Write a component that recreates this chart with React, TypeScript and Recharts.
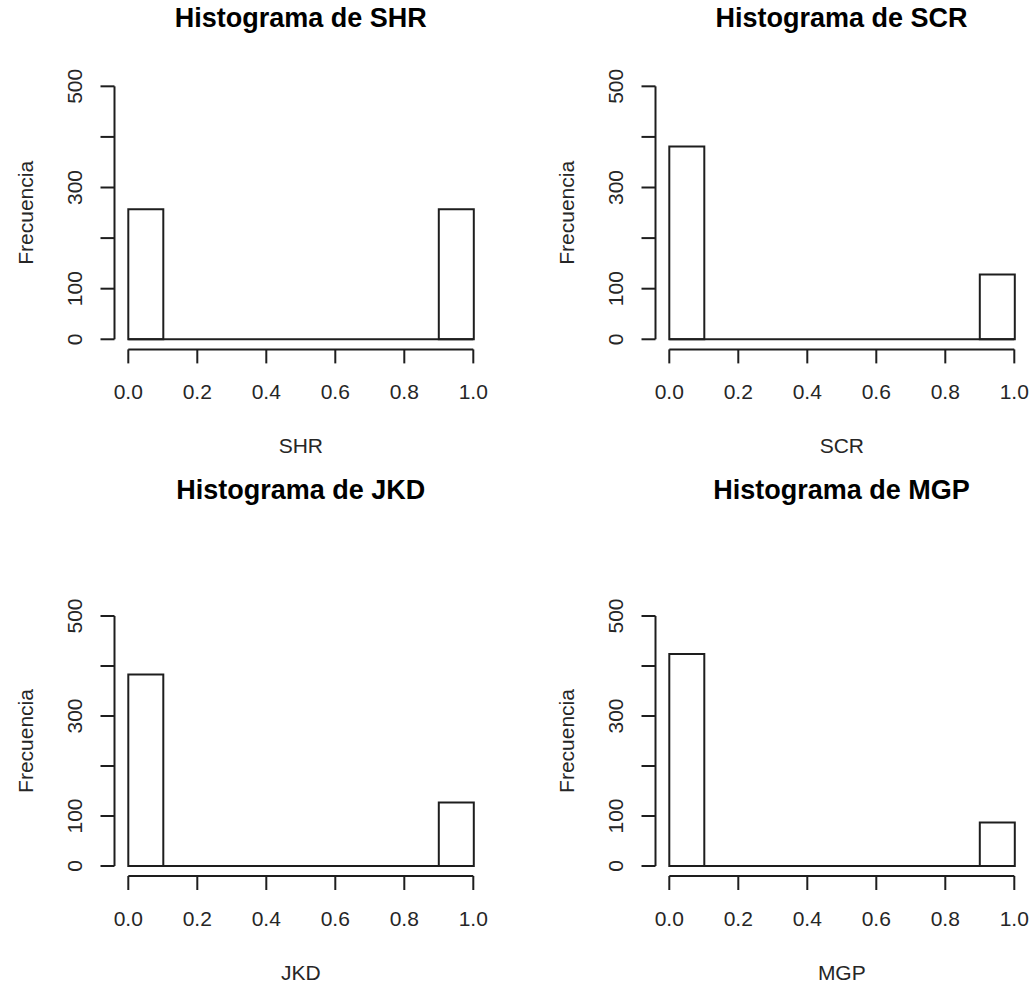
import React from "react";
import { Bar, BarChart, ReferenceLine, XAxis, YAxis } from "recharts";

// histogram bins (width 0.1 from 0 to 1)
const binNames = ["0.0-0.1", "0.1-0.2", "0.2-0.3", "0.3-0.4", "0.4-0.5", "0.5-0.6", "0.6-0.7", "0.7-0.8", "0.8-0.9", "0.9-1.0"];
const binMids = [0.05, 0.15, 0.25, 0.35, 0.45, 0.55, 0.65, 0.75, 0.85, 0.95];

const shrCounts = [257, 0, 0, 0, 0, 0, 0, 0, 0, 257];
const scrCounts = [381, 0, 0, 0, 0, 0, 0, 0, 0, 128];
const jkdCounts = [383, 0, 0, 0, 0, 0, 0, 0, 0, 127];
const mgpCounts = [424, 0, 0, 0, 0, 0, 0, 0, 0, 87];

const xTicks = [0, 0.2, 0.4, 0.6, 0.8, 1];
const yTicks = [0, 100, 200, 300, 400, 500];
const yLabeled = [0, 100, 300, 500];

const FONT = '"Liberation Sans", Arial, Helvetica, sans-serif';
const INK = "#1e1e1e";
const TEXT = "#262626";

const CHART_W = 516;
const PLOT_LEFT = 114.5;
const PLOT_RIGHT = 487.1;
const PAD = ((PLOT_RIGHT - PLOT_LEFT) * 0.04) / 1.08;
const X_AXIS_H = 60;

type RowGeom = { top: number; height: number; plotTop: number; plotBottom: number; titleY: number };

const topRow: RowGeom = { top: 0, height: 493, plotTop: 76.2, plotBottom: 349.4, titleY: 28 };
const bottomRow: RowGeom = { top: 470, height: 516, plotTop: 136, plotBottom: 406, titleY: 30 };

function XTick(props: any) {
  const { x, y, payload } = props;
  return (
    <text x={x} y={y + 34} textAnchor="middle" fontSize={21} fontFamily={FONT} fill={TEXT}>
      {Number(payload.value).toFixed(1)}
    </text>
  );
}

function YTick(props: any) {
  const { x, y, payload } = props;
  if (!yLabeled.includes(payload.value)) return null;
  return (
    <text
      transform={`translate(${x - 16.5},${y}) rotate(-90)`}
      textAnchor="middle"
      fontSize={21}
      fontFamily={FONT}
      fill={TEXT}
    >
      {payload.value}
    </text>
  );
}

function Histogram({ name, counts, left, row }: { name: string; counts: number[]; left: number; row: RowGeom }) {
  const data = binNames.map((bin, i) => ({ bin, mid: binMids[i], count: counts[i] }));
  const plotMid = (PLOT_LEFT + PLOT_RIGHT) / 2;
  const yMid = (row.plotTop + row.plotBottom) / 2;
  return (
    <div style={{ position: "absolute", left, top: row.top, width: CHART_W, height: row.height }}>
      <div
        style={{
          position: "absolute",
          left: plotMid - 200,
          width: 400,
          top: row.titleY - 23,
          textAlign: "center",
          fontFamily: FONT,
          fontWeight: "bold",
          fontSize: 27,
          lineHeight: "27px",
          color: "#000",
        }}
      >
        Histograma de {name}
      </div>
      <BarChart
        width={CHART_W}
        height={row.height}
        data={data}
        barCategoryGap={0}
        margin={{
          top: row.plotTop,
          left: 0,
          right: CHART_W - PLOT_RIGHT,
          bottom: row.height - row.plotBottom - X_AXIS_H,
        }}
      >
        <XAxis
          xAxisId="num"
          dataKey="mid"
          type="number"
          domain={[-0.04, 1.04]}
          allowDataOverflow
          ticks={xTicks}
          interval={0}
          height={X_AXIS_H}
          axisLine={false}
          tickSize={14}
          tickLine={{ stroke: INK, strokeWidth: 2 }}
          tick={<XTick />}
          label={{
            content: () => (
              <text x={plotMid} y={row.plotBottom + 104} textAnchor="middle" fontSize={21} fontFamily={FONT} fill={TEXT}>
                {name}
              </text>
            ),
          }}
        />
        <XAxis xAxisId="bins" dataKey="bin" type="category" hide height={0} padding={{ left: PAD, right: PAD }} />
        <YAxis
          type="number"
          domain={[-20, 520]}
          allowDataOverflow
          ticks={yTicks}
          interval={0}
          width={PLOT_LEFT}
          axisLine={false}
          tickSize={14}
          tickLine={{ stroke: INK, strokeWidth: 2 }}
          tick={<YTick />}
          label={{
            content: () => (
              <text
                transform={`translate(33,${yMid}) rotate(-90)`}
                textAnchor="middle"
                fontSize={21}
                fontFamily={FONT}
                fill={TEXT}
              >
                Frecuencia
              </text>
            ),
          }}
        />
        <Bar
          xAxisId="bins"
          dataKey="count"
          fill="#ffffff"
          stroke={INK}
          strokeWidth={2}
          isAnimationActive={false}
        />
        <ReferenceLine
          xAxisId="num"
          segment={[{ x: 0, y: 0 }, { x: 1, y: 0 }]}
          stroke={INK}
          strokeWidth={2}
          ifOverflow="visible"
        />
        <ReferenceLine
          xAxisId="num"
          segment={[{ x: 0, y: -20 }, { x: 1, y: -20 }]}
          stroke={INK}
          strokeWidth={2}
          ifOverflow="visible"
        />
        <ReferenceLine
          xAxisId="num"
          segment={[{ x: -0.04, y: 0 }, { x: -0.04, y: 500 }]}
          stroke={INK}
          strokeWidth={2}
          ifOverflow="visible"
        />
      </BarChart>
    </div>
  );
}

export default function App() {
  return (
    <div style={{ position: "relative", width: 1033, height: 986, background: "#ffffff", overflow: "hidden" }}>
      <style>{"body{margin:0}"}</style>
      <Histogram name="SHR" counts={shrCounts} left={0} row={topRow} />
      <Histogram name="SCR" counts={scrCounts} left={540.7} row={topRow} />
      <Histogram name="JKD" counts={jkdCounts} left={0} row={bottomRow} />
      <Histogram name="MGP" counts={mgpCounts} left={540.7} row={bottomRow} />
    </div>
  );
}
